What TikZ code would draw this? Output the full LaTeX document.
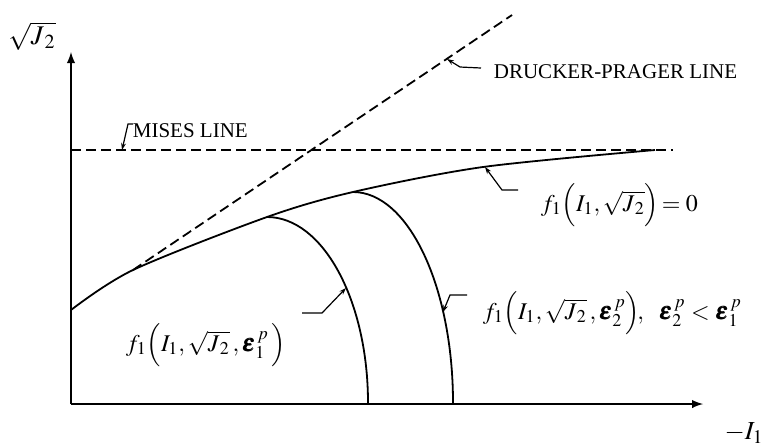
\documentclass[tikz,border=0pt]{standalone}
\usepackage{mathptmx}
\usepackage{bm}
\usepackage{fontspec}
\setmainfont{Liberation Serif}
\usetikzlibrary{arrows.meta}
\begin{document}
\begin{tikzpicture}[x=0.5pt,y=-0.5pt,line width=0.9pt,
  lbl/.style={inner sep=0pt,anchor=west,font=\fontsize{10.5}{12}\selectfont},
  mlbl/.style={lbl,font=\fontsize{12}{14}\selectfont},
  leader/.style={line width=0.6pt,arrows=-{Stealth[length=3.5pt,width=2.4pt]}},
  yieldline/.style={dash pattern=on 5pt off 2.5pt}]
\useasboundingbox (0,0) rectangle (769,446);
% axes
\coordinate (O) at (71,404);
\coordinate (ytop) at (71,52);
\coordinate (xend) at (703,404);
\draw[arrows=-latex] (O) -- (ytop);
\draw[arrows=-latex] (O) -- (xend);
\node[mlbl,anchor=center,font=\fontsize{13.5}{15}\selectfont] (ylab) at (32,36) {$\sqrt{J_{\,2}}$};
\node[mlbl,anchor=center,font=\fontsize{13}{15}\selectfont] (xlab) at (744,433) {$-I_1$};
% Mises and Drucker-Prager lines
\coordinate (misesL) at (71,150);
\coordinate (misesR) at (673,150);
\coordinate (dpA) at (133,270);
\coordinate (dpB) at (512,15);
\draw[yieldline] (misesL) -- (misesR);
\draw[yieldline] (dpA) -- (dpB);
% yield surface and caps
\coordinate (cap1) at (267,217);
\coordinate (cap2) at (353,192);
\draw plot[smooth] coordinates {(71,310) (dpA) (cap1) (cap2) (483,167) (655,150)};
\draw (cap1) arc[start angle=90,end angle=0,x radius=50.5pt,y radius=93pt];
\draw (cap2) arc[start angle=90,end angle=0,x radius=50pt,y radius=105.5pt];
% labels
\node[lbl] (mises) at (132,131) {MISES LINE};
\node[lbl] (dp) at (493,72) {DRUCKER-PRAGER LINE};
\node[mlbl] (fzero) at (540,205) {$f_1\Bigl(I_1,\sqrt{J_{\,2}}\Bigr)\!=0$};
\node[mlbl] (fone) at (125,345) {$f_1\Bigl(I_1,\sqrt{J_{\,2}}\,,\bm{\varepsilon}_1^{\,p}\,\Bigr)$};
\node[mlbl] (ftwo) at (482,313) {$f_1\Bigl(I_1,\sqrt{J_{\,2}}\,,\bm{\varepsilon}_2^{\,p}\Bigr)\!,\ \ \bm{\varepsilon}_2^{\,p}<\bm{\varepsilon}_1^{\,p}$};
% leaders
\coordinate (misesP) at (122,150);
\coordinate (misesK) at (128,124);
\coordinate (misesE) at (133,124);
\coordinate (dpP) at (447,59);
\coordinate (dpK) at (460,67);
\coordinate (dpE) at (481,68);
\coordinate (fzeroP) at (485,167);
\coordinate (fzeroK) at (502,190);
\coordinate (fzeroE) at (518,190);
\coordinate (foneP) at (346,288);
\coordinate (foneK) at (322,313);
\coordinate (foneE) at (302,313);
\coordinate (ftwoP) at (443,312);
\coordinate (ftwoK) at (450,295);
\coordinate (ftwoE) at (467,295);
\foreach \c in {mises,dp,fzero,fone,ftwo}
    \draw[leader] (\c E) -- (\c K) -- (\c P);
\end{tikzpicture}
\end{document}
